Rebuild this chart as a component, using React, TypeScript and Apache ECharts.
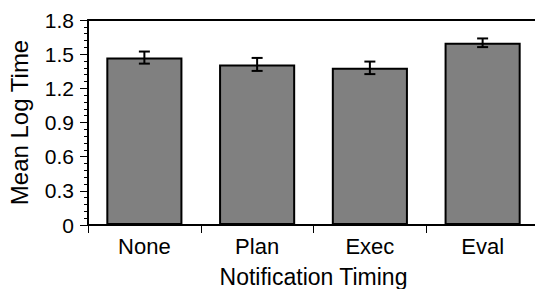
import React, { useEffect, useRef } from "react";
import * as echarts from "echarts";

const categories = ["None", "Plan", "Exec", "Eval"];
const meanLogTime = [1.47, 1.41, 1.38, 1.6];
const errorHalf = [0.053, 0.057, 0.055, 0.038];
const yTicks = [0, 0.3, 0.6, 0.9, 1.2, 1.5, 1.8];

const FONT = "Liberation Sans, Arial, sans-serif";

export default function App() {
  const ref = useRef<HTMLDivElement>(null);
  useEffect(() => {
    if (!ref.current) return;
    const chart = echarts.init(ref.current, null, { renderer: "svg" });
    const errData = categories.map((_, i) => [i, meanLogTime[i] - errorHalf[i], meanLogTime[i] + errorHalf[i]]);
    chart.setOption({
      animation: false,
      grid: { left: 88, top: 20, width: 451, height: 205, containLabel: false, outerBoundsMode: "none" },
      xAxis: [
        {
          type: "category",
          data: categories,
          position: "bottom",
          name: "Notification Timing",
          nameLocation: "middle",
          nameGap: 40,
          nameTextStyle: { fontFamily: FONT, fontSize: 23, color: "#000" },
          axisLine: { show: true, lineStyle: { color: "#000", width: 2 } },
          axisTick: { show: true, length: 8, lineStyle: { color: "#000", width: 1 } },
          axisLabel: { fontFamily: FONT, fontSize: 22, color: "#000", margin: 10 },
          splitLine: { show: false },
        },
        {
          type: "category",
          data: categories,
          position: "top",
          axisLine: { show: true, lineStyle: { color: "#000", width: 2 } },
          axisTick: { show: false },
          axisLabel: { show: false },
          splitLine: { show: false },
        },
      ],
      yAxis: {
        type: "value",
        min: yTicks[0],
        max: yTicks[yTicks.length - 1],
        interval: 0.3,
        name: "Mean Log Time",
        nameLocation: "middle",
        nameGap: 57,
        nameTextStyle: { fontFamily: FONT, fontSize: 24, color: "#000" },
        axisLine: { show: true, lineStyle: { color: "#000", width: 2 } },
        axisTick: { show: true, length: 8, lineStyle: { color: "#000", width: 1 } },
        minorTick: { show: true, splitNumber: 5, length: 4, lineStyle: { color: "#000", width: 1 } },
        axisLabel: {
          fontFamily: FONT,
          fontSize: 21,
          color: "#000",
          margin: 14,
          formatter: (v: number) => (v === 0 ? "0" : v.toFixed(1)),
        },
        splitLine: { show: false },
        minorSplitLine: { show: false },
      },
      series: [
        {
          type: "bar",
          data: meanLogTime,
          barWidth: "67.5%",
          itemStyle: { color: "#808080", borderColor: "#000", borderWidth: 2 },
        },
        {
          type: "custom",
          data: errData,
          z: 10,
          renderItem: (params: any, api: any) => {
            const x = api.value(0);
            const lo = api.coord([x, api.value(1)]);
            const hi = api.coord([x, api.value(2)]);
            const w = 5.5;
            const style = { stroke: "#000", lineWidth: 2 };
            return {
              type: "group",
              children: [
                { type: "line", shape: { x1: lo[0], y1: lo[1], x2: hi[0], y2: hi[1] }, style },
                { type: "line", shape: { x1: lo[0] - w, y1: lo[1], x2: lo[0] + w, y2: lo[1] }, style },
                { type: "line", shape: { x1: hi[0] - w, y1: hi[1], x2: hi[0] + w, y2: hi[1] }, style },
              ],
            };
          },
        },
      ],
    });
    return () => chart.dispose();
  }, []);
  return <div ref={ref} style={{ width: 535, height: 289, position: "absolute", left: 0, top: 0 }} />;
}
